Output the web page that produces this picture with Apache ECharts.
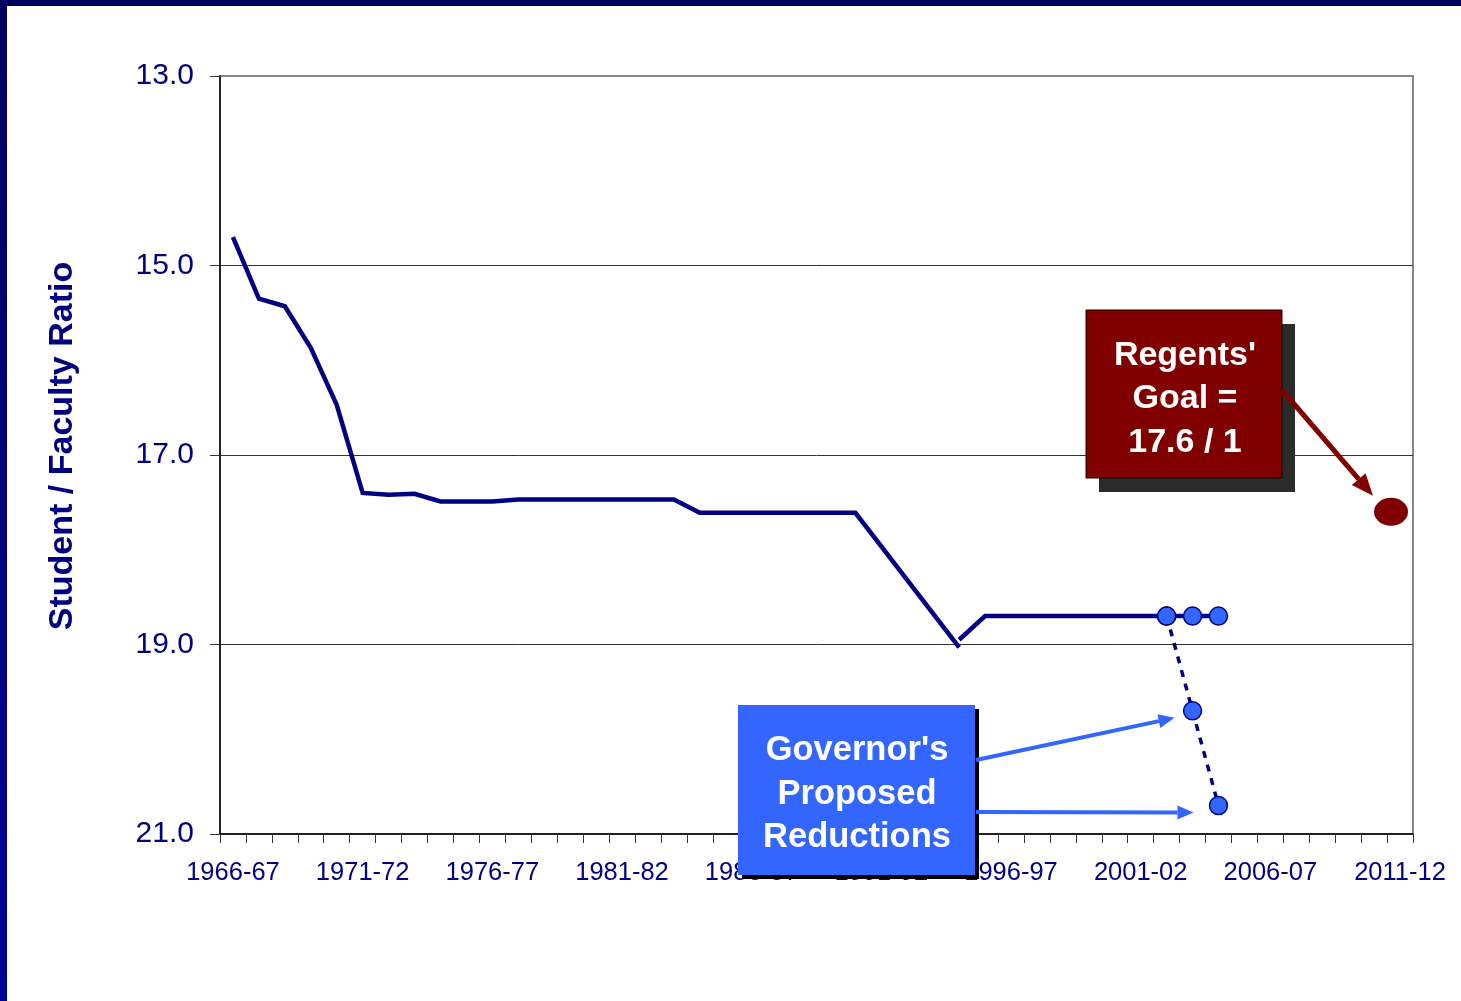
<!DOCTYPE html>
<html>
<head>
<meta charset="utf-8">
<script src="https://cdn.jsdelivr.net/npm/echarts@6/dist/echarts.min.js"></script>
<style>
  html, body { margin: 0; padding: 0; background: #ffffff; }
  #chart { width: 1461px; height: 1001px; }
</style>
</head>
<body>
<div id="chart"></div>
<script>
// Academic years on the horizontal axis
const years = [
  '1966-67','1967-68','1968-69','1969-70','1970-71','1971-72','1972-73','1973-74',
  '1974-75','1975-76','1976-77','1977-78','1978-79','1979-80','1980-81','1981-82',
  '1982-83','1983-84','1984-85','1985-86','1986-87','1987-88','1988-89','1989-90',
  '1990-91','1991-92','1992-93','1993-94','1994-95','1995-96','1996-97','1997-98',
  '1998-99','1999-00','2000-01','2001-02','2002-03','2003-04','2004-05','2005-06',
  '2006-07','2007-08','2008-09','2009-10','2010-11','2011-12'
];

// Ratio scale ticks (students per faculty member)
const ratioTicks = [13.0, 15.0, 17.0, 19.0, 21.0];

// Historical student / faculty ratio
const histYears = [
  '1966-67','1967-68','1968-69','1969-70','1970-71','1971-72','1972-73','1973-74',
  '1974-75','1975-76','1976-77','1977-78','1978-79','1979-80','1980-81','1981-82',
  '1982-83','1983-84','1984-85','1985-86','1986-87','1987-88','1988-89','1989-90',
  '1990-91','1994-95'
];
const histRatio = [
  14.7, 15.35, 15.43, 15.87, 16.47, 17.4, 17.42, 17.41,
  17.49, 17.49, 17.49, 17.47, 17.47, 17.47, 17.47, 17.47,
  17.47, 17.47, 17.61, 17.61, 17.61, 17.61, 17.61, 17.61,
  17.61, 19.03
];

// Recent ratio
const recentYears = [
  '1994-95','1995-96','1996-97','1997-98','1998-99','1999-00',
  '2000-01','2001-02','2002-03','2003-04','2004-05'
];
const recentRatio = [18.95, 18.7, 18.7, 18.7, 18.7, 18.7, 18.7, 18.7, 18.7, 18.7, 18.7];

// Current level for the budget years
const budgetYears = ['2002-03','2003-04','2004-05'];
const currentRatio = [18.7, 18.7, 18.7];

// Governor's proposed reductions
const proposedYears = ['2002-03','2003-04','2004-05'];
const proposedRatio = [18.7, 19.7, 20.7];

// Regents' goal
const goalYears = ['2011-12'];
const goalRatio = [17.6];

const NAVY = '#000080';
const BLUE = '#3366FF';
const MAROON = '#800000';
const FONT = '"Liberation Sans", Arial, sans-serif';

const pairs = (xs, vs) => xs.map((x, i) => [x, vs[i]]);

const chart = echarts.init(document.getElementById('chart'), null, { renderer: 'canvas' });

chart.setOption({
  backgroundColor: '#ffffff',
  animation: false,
  grid: {
    left: 220, right: 48, top: 76, bottom: 167,
    show: true, borderColor: '#888888', borderWidth: 2, backgroundColor: 'transparent'
  },
  xAxis: {
    type: 'category',
    data: years,
    boundaryGap: true,
    axisLine: { show: true, lineStyle: { color: '#000000', width: 1.5 } },
    axisTick: { show: true, interval: 0, length: 9, lineStyle: { color: '#333333', width: 1 } },
    axisLabel: {
      interval: 4, margin: 26, color: NAVY, fontSize: 25.5, fontFamily: FONT
    },
    splitLine: { show: false }
  },
  yAxis: {
    type: 'value',
    inverse: true,
    min: ratioTicks[0],
    max: ratioTicks[ratioTicks.length - 1],
    interval: 2,
    name: 'Student / Faculty Ratio',
    nameLocation: 'middle',
    nameGap: 140,
    nameTextStyle: {
      color: NAVY, fontSize: 34, fontWeight: 'bold', fontFamily: FONT,
      padding: [0, 0, 0, 18]
    },
    axisLine: { show: true, lineStyle: { color: '#000000', width: 1.5 } },
    axisTick: { show: true, length: 10, lineStyle: { color: '#333333', width: 1 } },
    axisLabel: {
      margin: 26, color: NAVY, fontSize: 30, fontFamily: FONT,
      formatter: v => v.toFixed(1)
    },
    splitLine: {
      show: true,
      lineStyle: { color: ['#888888', '#333333', '#333333', '#333333', '#888888'], width: 1 }
    }
  },
  series: [
    {
      name: 'historical',
      type: 'line',
      data: pairs(histYears, histRatio),
      showSymbol: false,
      symbol: 'none',
      lineStyle: { color: NAVY, width: 4.5, cap: 'butt', join: 'miter' },
      z: 3
    },
    {
      name: 'recent',
      type: 'line',
      data: pairs(recentYears, recentRatio),
      showSymbol: false,
      symbol: 'none',
      lineStyle: { color: NAVY, width: 4.5, cap: 'butt', join: 'miter' },
      z: 3
    },
    {
      name: 'proposed',
      type: 'line',
      data: pairs(proposedYears, proposedRatio),
      symbol: 'circle',
      symbolSize: 18,
      showSymbol: true,
      showAllSymbol: true,
      itemStyle: { color: BLUE, borderColor: NAVY, borderWidth: 1.5 },
      lineStyle: { color: NAVY, width: 3.5, type: [7, 7] },
      z: 4
    },
    {
      name: 'current',
      type: 'scatter',
      data: pairs(budgetYears, currentRatio),
      symbol: 'circle',
      symbolSize: 18,
      itemStyle: { color: BLUE, borderColor: NAVY, borderWidth: 1.5, opacity: 1 },
      z: 5
    },
    {
      name: 'goal',
      type: 'scatter',
      data: pairs(goalYears, goalRatio),
      symbol: 'circle',
      symbolSize: [34, 28],
      symbolOffset: [-9, 0],
      itemStyle: { color: MAROON, opacity: 1 },
      z: 5
    }
  ]
});

// Arrow built from a shaft and a triangular head
function arrow(x1, y1, x2, y2, w, hl, hw, color) {
  const dx = x2 - x1, dy = y2 - y1, L = Math.hypot(dx, dy);
  const ux = dx / L, uy = dy / L;
  const bx = x2 - ux * hl, by = y2 - uy * hl;
  const px = -uy, py = ux;
  return [
    { type: 'line', z: 25, shape: { x1: x1, y1: y1, x2: bx, y2: by },
      style: { stroke: color, lineWidth: w } },
    { type: 'polygon', z: 25, shape: { points: [[x2, y2], [bx + px * hw / 2, by + py * hw / 2], [bx - px * hw / 2, by - py * hw / 2]] },
      style: { fill: color } }
  ];
}

// Annotation callouts, arrows aimed at the plotted points
const p19 = chart.convertToPixel({ gridIndex: 0 }, [proposedYears[1], proposedRatio[1]]);
const p20 = chart.convertToPixel({ gridIndex: 0 }, [proposedYears[2], proposedRatio[2]]);
const pGoal = chart.convertToPixel({ gridIndex: 0 }, [goalYears[0], goalRatio[0]]);

const graphics = [
  // slide frame
  { type: 'rect', z: 30, shape: { x: 0, y: 0, width: 1461, height: 6 }, style: { fill: '#000060' } },
  { type: 'rect', z: 30, shape: { x: 0, y: 0, width: 7, height: 1001 },
    style: { fill: new echarts.graphic.LinearGradient(0, 0, 0, 1, [
      { offset: 0, color: '#000060' }, { offset: 1, color: '#000099' }]) } },

  // Regents' goal callout
  { type: 'rect', z: 21, shape: { x: 1099, y: 324, width: 196, height: 168 }, style: { fill: '#2b2b2b' } },
  { type: 'rect', z: 22, shape: { x: 1086, y: 310, width: 196, height: 168 },
    style: { fill: MAROON, stroke: '#1a0000', lineWidth: 1 } },
  { type: 'text', z: 23, style: {
      x: 1185, y: 399, text: "Regents'\nGoal =\n17.6 / 1",
      fill: '#ffffff', fontSize: 34, fontWeight: 'bold', fontFamily: FONT,
      align: 'center', verticalAlign: 'middle', lineHeight: 43.5 } },

  // Governor's callout
  { type: 'rect', z: 21, shape: { x: 742, y: 709, width: 237, height: 170 }, style: { fill: '#000000' } },
  { type: 'rect', z: 22, shape: { x: 738, y: 705, width: 237, height: 170 }, style: { fill: BLUE } },
  { type: 'text', z: 23, style: {
      x: 857, y: 794, text: "Governor's\nProposed\nReductions",
      fill: '#ffffff', fontSize: 34.5, fontWeight: 'bold', fontFamily: FONT,
      align: 'center', verticalAlign: 'middle', lineHeight: 43.5 } }
];

graphics.push(...arrow(1282, 390, pGoal[0] - 27, pGoal[1] - 16, 5, 22, 18, MAROON));
graphics.push(...arrow(976, 760, p19[0] - 18, p19[1] + 7, 4, 16, 14, BLUE));
graphics.push(...arrow(976, 812, p20[0] - 25, p20[1] + 7, 4, 16, 14, BLUE));

chart.setOption({ graphic: graphics });
</script>
</body>
</html>
